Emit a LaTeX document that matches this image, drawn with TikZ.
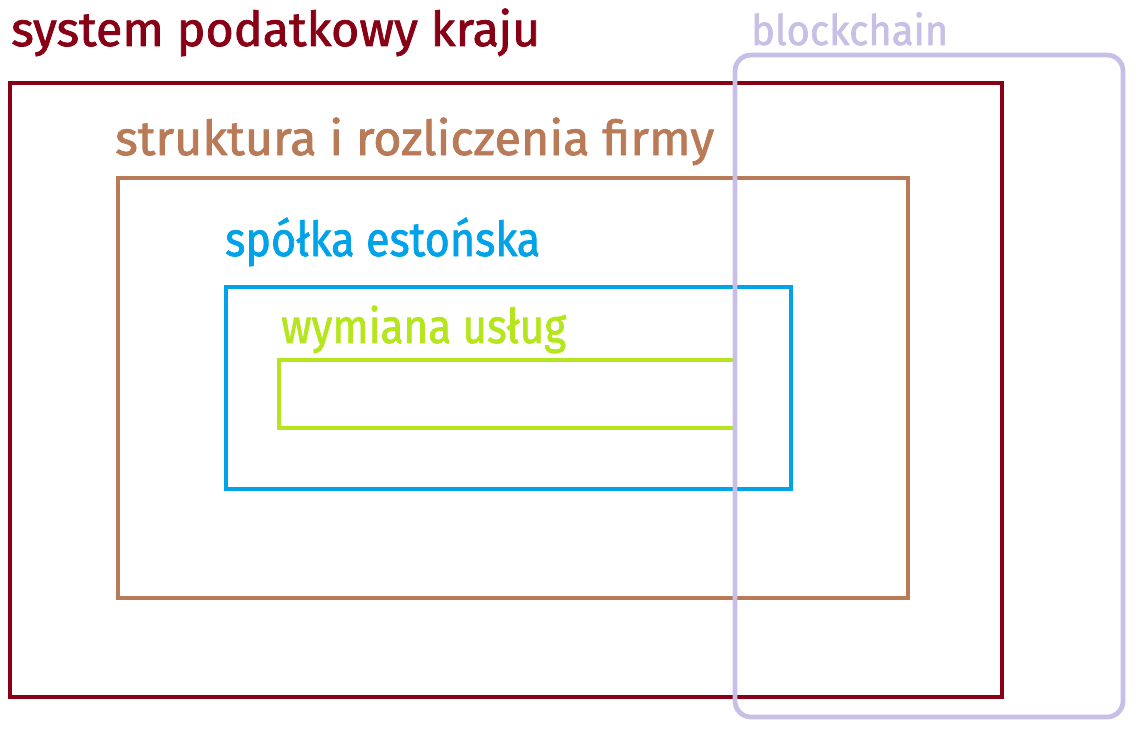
\documentclass[tikz,border=0pt]{standalone}
\usepackage{fontspec}
\setmainfont{Fira Sans}[FakeBold=1.6]
\definecolor{kraj}{HTML}{880015}
\definecolor{firma}{HTML}{B97A57}
\definecolor{spolka}{HTML}{00A2E8}
\definecolor{uslugi}{HTML}{B5E61D}
\definecolor{chain}{HTML}{C8BFE7}
\newcommand{\napis}[2]{\resizebox{#1}{\height}{#2}}
\tikzset{
	ramka/.style={line width=4.8pt},
	etykieta/.style={anchor=base west,inner sep=0pt,font=\fontsize{48}{54}\selectfont}
}
\begin{document}
\begin{tikzpicture}[x=1pt,y=-1pt]
	\useasboundingbox (0,0) rectangle (1147,733);
		\draw[ramka,kraj] (10,83) rectangle (1002,697);
		\draw[ramka,firma] (118,178) rectangle (908,598);
		\draw[ramka,spolka] (226,287) rectangle (791,489);
		\draw[ramka,uslugi] (279,360) rectangle (735,428);
			\draw[ramka,chain,rounded corners=16pt] (735,55) rectangle (1123,717);
	\node[etykieta,kraj] (kraj) at (11,46) {\napis{529pt}{system podatkowy kraju}};
	\node[etykieta,firma] (firma) at (115,155) {\napis{599pt}{struktura i rozliczenia firmy}};
	\node[etykieta,spolka] (spolka) at (225,256) {\napis{315pt}{spółka estońska}};
	\node[etykieta,uslugi] (uslugi) at (281,343) {\napis{285pt}{wymiana usług}};
	\node[etykieta,chain,font=\fontsize{42}{48}\selectfont] (chain) at (751,45) {\napis{197pt}{blockchain}};
\end{tikzpicture}
\end{document}
